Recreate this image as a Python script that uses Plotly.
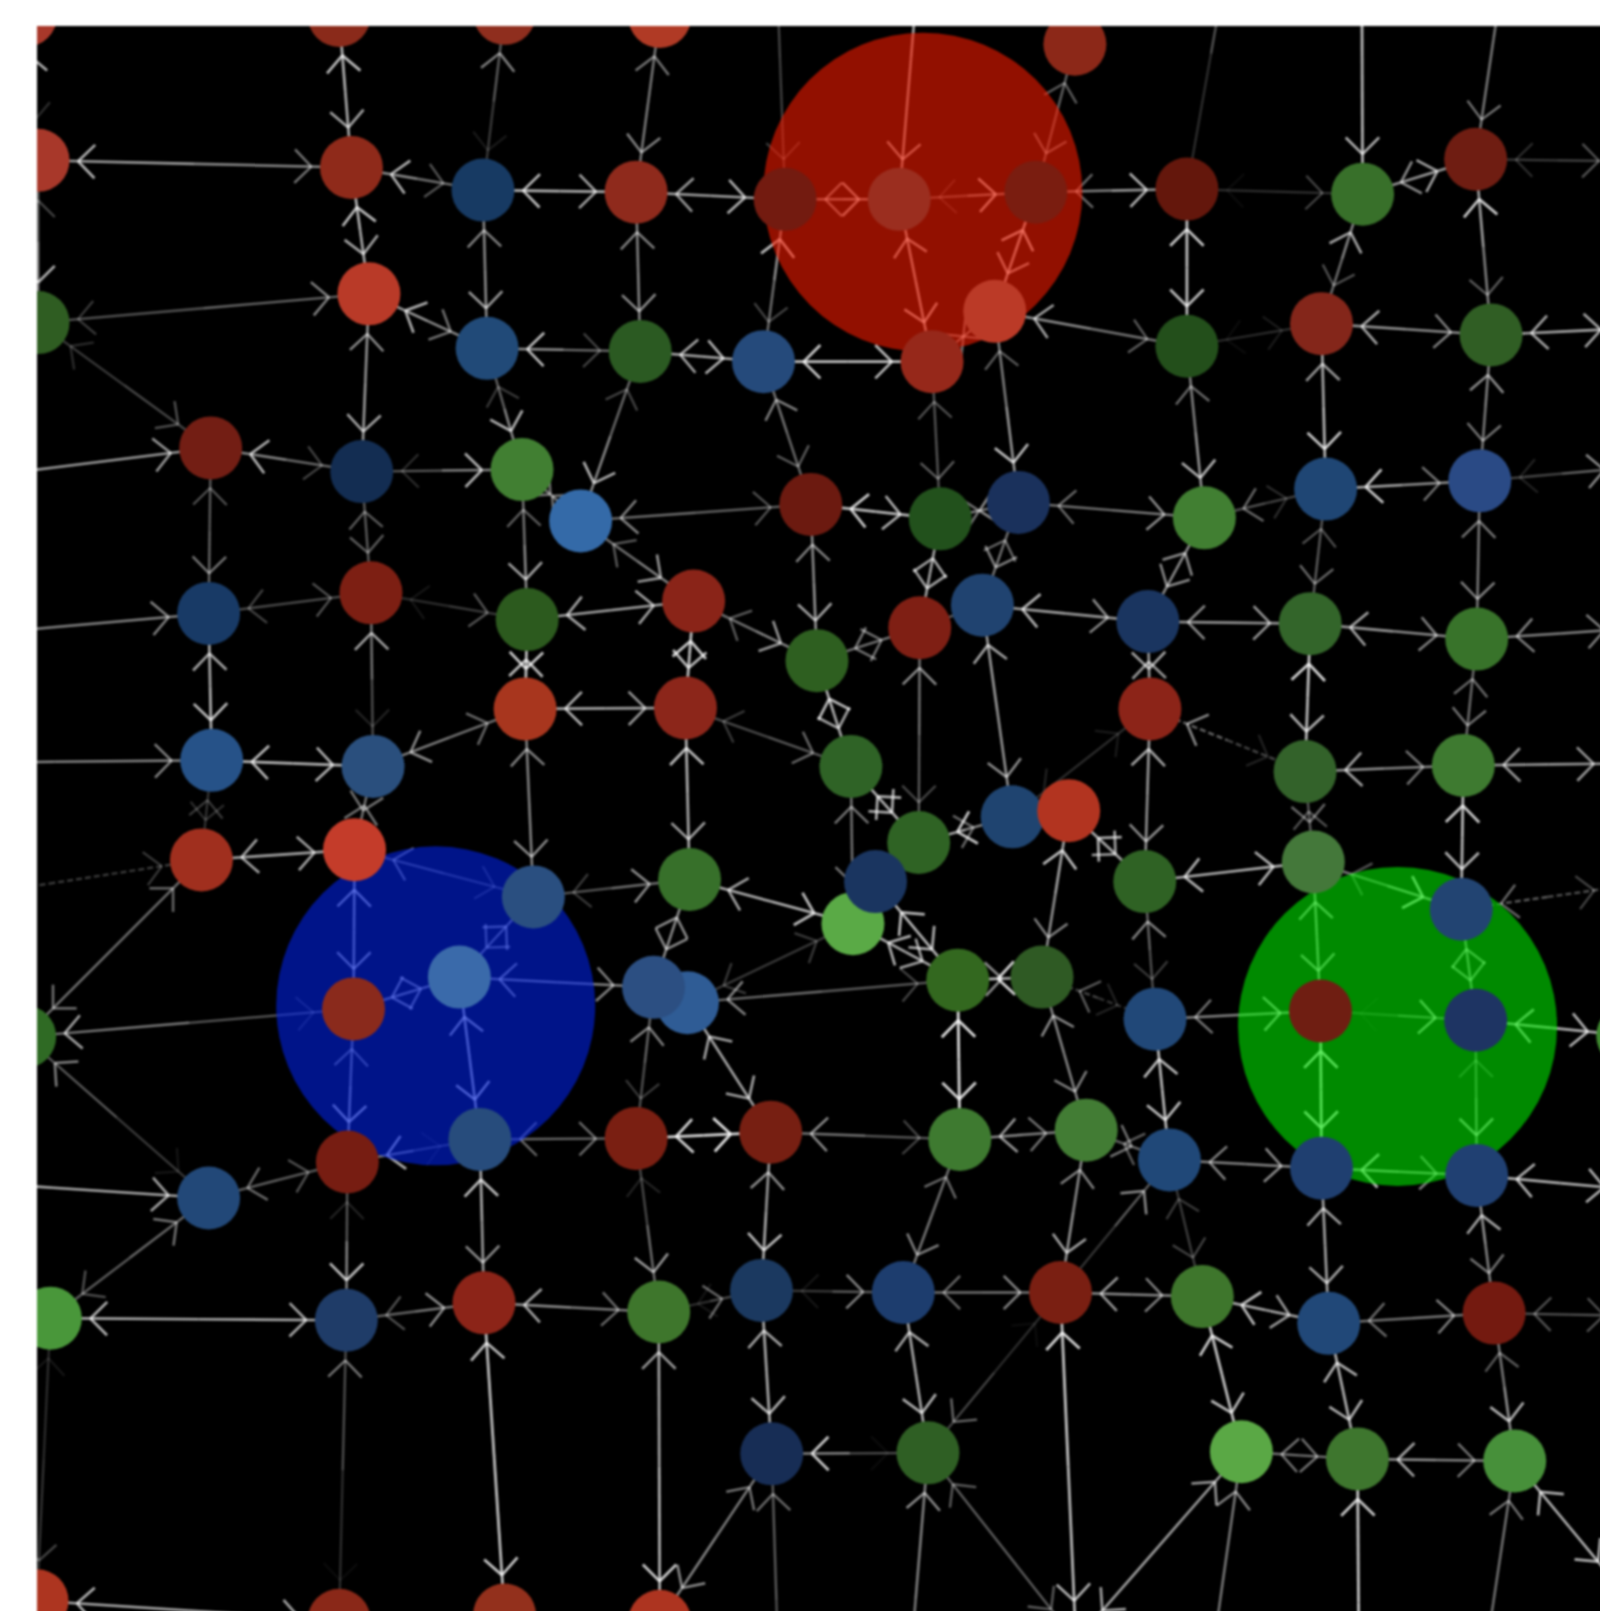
import plotly.graph_objects as go
import math

node_names = """A1 A2 A3 A4 A5
B0 B1 B2 B3 B4 B5 B6 B7 B8 B9
C0 C1 C2 C3 C4 C5 C6 C7 C8 C9
D0 D1 D2 D3 D4 D5 D6 D7 D8 D9
E0 E1 E2 E3 E4 E5 E6 E7 E8 E9
F0 F1 F2 F3 F4 F5 F6 F7
G0 G1 G2 G3 G4 G5 G6 G8 G7 G9 Ga Gb
H0 H1 H2 H4 H3 H5 H6 H7 H8 H9 Ha
I0 I1 I2 I3 I4 I5 I6 I7 I8 I9
J0 J1 J2 J3 J4 J5 J6 J7 J8 J9
K0 K1 K2 K3 K4
L0 L1 L2 L3""".split()
node_x = [25,330,491,642,1046,
          37,342,470,619,764,875,1008,1155,1326,1436,
          37,359,474,623,743,907,968,1155,1286,1451,
          205,352,508,565,789,915,991,1172,1290,1440,
          203,361,513,675,795,895,956,1117,1275,1437,
          206,363,511,667,828,1119,1270,1424,
          196,345,519,671,894,985,1040,830,852,1114,1278,1422,
          24,344,447,669,636,932,1014,1124,1285,1436,1584,
          338,467,619,750,934,1057,1138,1286,1437,203,
          49,337,471,641,741,879,1032,1170,1293,1454,
          751,903,1208,1321,1474,
          36,330,491,642]
node_y = [15,15,13,16,43,
          156,163,185,187,194,194,187,184,189,155,
          314,286,339,342,352,352,303,337,315,326,
          436,459,457,507,491,505,489,504,476,468,
          597,577,603,585,643,611,589,605,607,622,
          740,746,690,689,746,690,751,745,
          837,827,873,856,820,795,789,899,858,858,839,885,
          1009,982,951,976,961,954,951,992,984,993,1008,
          1131,1109,1108,1102,1109,1100,1129,1137,1144,1166,
          1283,1285,1268,1277,1256,1258,1258,1262,1288,1278,
          1415,1414,1413,1420,1422,
          1558,1577,1572,1578]
node_color = ["#a8382a","#8a2a1a","#8f2e1e","#b03a25","#8c2818",
    "#a8382a","#8f2a1a","#173a63","#8f2a1c","#731b10","#9b2e1f","#7a1d10","#64170c","#38702a","#6f1d12",
    "#2f5d22","#b93a28","#214a78","#2b5a22","#254a7b","#96281a","#bb3a27","#234f1b","#84261a","#305e24",
    "#731e14","#132d52","#417f32","#346aa8","#6c1a10","#22511c","#1a315c","#417f32","#1f4674","#2a4a85",
    "#183a66","#7d1f13","#2c5a1e","#8a2418","#2e5f20","#7f1f14","#204370","#1a3560","#33652a","#38732a",
    "#265288","#2a4f7d","#a8361e","#8c261a","#2f6326","#8c2418","#33622a","#3e7a30",
    "#a02f1e","#c43c2a","#2a4f80","#37702a","#2f6324","#1f4470","#b23420","#5aaa46","#1a3560","#2f6224","#44783a","#224472",
    "#2f6a24","#8a2a1c","#3a6aaa","#2f5c95","#2c4f82","#33681f","#2f5a24","#214878","#6f1e12","#1e3463","#3f8a30",
    "#771d12","#274c7c","#7a1f12","#771f12","#3e7a30","#427c34","#204878","#1f3f70","#204072","#224878",
    "#49973a","#1f3c68","#8c2418","#3e762c","#1b3960","#1d3d6e","#7a1f12","#3e762c","#214878","#741a10",
    "#172d55","#2f5f24","#5aa845","#3e762e","#47903a",
    "#ad3520","#8a2818","#93301c","#ad3420"]

# neighbours outside the visible window
anchor_names = ["T1","T2","T3","T4","T5","R1","R2","R3","R4","R5","R6","R7","R8","R9",
                "W1","W2","W3","W4","W5","S1","S2","S5","S6","S7","M"]
anchor_x = [754,898,1202,1325,1471,1595,1597,1600,1600,1590,1590,1600,1600,1580,
            -100,-100,-100,-100,-100,760,879,1167,1323,1432,1047]
anchor_y = [-80,-80,-80,-80,-80,157,319,454,611,743,861,1159,1281,1550,
            474,624,743,883,1146,1700,1700,1700,1700,1700,1597]

# pair, level near the first node, level near the second node
edge_list = """A2-B1 .8 .7|A3-B2 .55 .12|A4-B3 .5 .55|A5-B6 .4 .45|A1-B0 .75 .2|B0-C0 .3 .75|T1-B4 .35 .25|T2-B5 .75 .65|T3-B7 .55 .03|T4-B8 .85 .75|T5-B9 .55 .5
B0-B1 .75 .5|B1-B2 .75 .35|B2-B3 .8 .7|B3-B4 .65 .75|B4-B5 .55 .7|B5-B6 .2 .75|B6-B7 .45 .75|B7-B8 .05 .3|B8-B9 .6 .7|B9-R1 .2 .35
B1-C1 .8 .7|B2-C2 .55 .65|B3-C3 .55 .6|B4-C4 .8 .3|B5-C5 .7 .75|B6-C6 .8 .7|B7-C7 .85 .8|B8-C8 .7 .35|B9-C9 .85 .4
C0-C1 .25 .55|C1-C2 .75 .5|C2-C3 .8 .3|C3-C4 .7 .75|C4-C5 .85 .8|C5-C6 .5 .5|C6-C7 .7 .4|C7-C8 .05 .12|C8-C9 .7 .55|C9-R2 .7 .7
C0-D0 .2 .35|C1-D1 .6 .7|C2-D2 .25 .75|C3-D3 .3 .75|C4-D4 .55 .4|C5-D5 .35 .4|C6-D6 .4 .8|C7-D7 .45 .75|C8-D8 .65 .85|C9-D9 .6 .5
W1-D0 .65 .65|D0-D1 .75 .3|D1-D2 .2 .75|D2-D3 .5 .5|D3-D4 .55 .35|D4-D5 .85 .75|D5-D6 .6 .5|D6-D7 .45 .6|D7-D8 .45 .2|D8-D9 .85 .5|D9-R3 .15 .6
D0-E0 .35 .5|D1-E1 .4 .4|D2-E2 .4 .7|D3-E3 .4 .65|D4-E4 .55 .7|D5-E5 .7 .7|D6-E6 .45 .55|D7-E7 .6 .6|D8-E8 .35 .45|D9-E9 .5 .55
W2-E0 .55 .55|E0-E1 .3 .35|E1-E2 .1 .35|E2-E3 .7 .7|E3-E4 .4 .65|E4-E5 .5 .5|E5-E6 .4 .4|E6-E7 .75 .6|E7-E8 .6 .65|E8-E9 .7 .55|E9-R4 .55 .55
E0-F0 .7 .8|E1-F1 .7 .15|E2-F2 .8 .85|E3-F3 .85 .8|E4-F4 .8 .7|E5-G4 .6 .3|E6-G5 .7 .6|E7-F5 .65 .7|E8-F6 .9 .75|E9-F7 .45 .5
W3-F0 .6 .55|F0-F1 .8 .75|F1-F2 .6 .45|F2-F3 .75 .65|F3-F4 .25 .45|F5-F6 .6 .15|F6-F7 .7 .5|F7-R5 .65 .65
F0-G0 .25 .2|F1-G1 .5 .5|F2-G2 .55 .6|F3-G3 .8 .7|F4-G8 .5 .5|F4-G4 .75 .75|F5-G9 .7 .6|F6-Ga .35 .45|F7-Gb .85 .75|F5-G5 .12 .15
W4-G0 .3 .25|G0-G1 .7 .7|G0-H0 .45 .5|G1-G2 .5 .25|G1-H1 .7 .65|G2-G3 .25 .6|G2-H2 .55 .5|G3-G8 .7 .8|G3-H3 .6 .6|G4-G5 .85 .45|G4-G7 .3 .3|G7-H5 .8 .75|G8-H5 .75 .7|G5-G6 .5 .5|G6-G9 .75 .7|G6-H6 .8 .55|G9-Ga .75 .75|G9-H7 .55 .25|Ga-Gb .35 .85|Ga-H8 .65 .65|Gb-H9 .6 .6|Gb-R6 .45 .3
H0-H1 .7 .2|H1-H2 .6 .55|H2-H3 .6 .55|H4-H5 .55 .3|H4-G8 .25 .25|H5-H6 .9 .6|H6-H7 .4 .15|H7-H8 .5 .7|H8-H9 .05 .7|H9-Ha .75 .75
H0-I9 .55 .1|H1-I0 .45 .75|H2-I1 .7 .75|H3-I2 .55 .25|H4-I3 .7 .7|H5-I4 .95 .9|H6-I5 .6 .55|H7-I6 .8 .8|H8-I7 .9 .9|H9-I8 .3 .7
I9-I0 .45 .35|I0-I1 .75 .1|I1-I2 .45 .45|I2-I3 .9 .95|I3-I4 .6 .3|I4-I5 .65 .5|I5-I6 .4 .5|I6-I7 .55 .6|I7-I8 .8 .55|I8-R7 .75 .75|W5-I9 .75 .7
I0-J1 .15 .8|I1-J2 .8 .6|I2-J3 .15 .65|I3-J4 .6 .8|I4-J5 .45 .55|I5-J6 .55 .7|I6-J7 .25 .3|I6-J6 .6 .03|I7-J8 .7 .7|I8-J9 .7 .5|I9-J0 .5 .35
J0-J1 .75 .7|J1-J2 .35 .6|J2-J3 .7 .45|J3-J4 .1 .45|J4-J5 .1 .55|J5-J6 .45 .55|J6-J7 .65 .55|J7-J8 .8 .65|J8-J9 .45 .55|J9-R8 .35 .35
J1-L1 .5 .05|J2-L2 .8 .85|J3-L3 .65 .85|J4-K0 .7 .75|J5-K1 .7 .75|J6-K1 .05 .45|J6-M .9 .75|J7-K2 .85 .8|J8-K3 .75 .75|J9-K4 .4 .75|J0-L0 .1 .3
K0-K1 .85 .05|K2-K3 .5 .5|K3-K4 .7 .5|K0-L3 .5 .6|K0-S1 .45 .3|K1-S2 .6 .5|K1-M .4 .4|K2-M .65 .7|K2-S5 .55 .5|K3-S6 .85 .85|K4-S7 .5 .5|K4-R9 .75 .75
L0-L1 .75 .7"""
dashed_edges = ["W4-G0", "Gb-R6", "H6-H7", "F5-F6"]

hub_x = [898, 424, 1360]
hub_y = [187, 979, 999]
hub_color = ["rgba(243,27,0,0.6)", "rgba(0,33,228,0.6)", "rgba(0,230,0,0.6)"]

pos = {n: (x, y) for n, x, y in zip(node_names, node_x, node_y)}
pos.update({n: (x, y) for n, x, y in zip(anchor_names, anchor_x, anchor_y)})

groups = {}
def seg(level, dash, xa, ya, xb, yb):
    xs, ys = groups.setdefault((round(level, 2), dash), ([], []))
    xs += [xa, xb, None]
    ys += [ya, yb, None]

for item in edge_list.replace("\n", "|").split("|"):
    pair, la, lb = item.split()
    la, lb = float(la), float(lb)
    a, b = pair.split("-")
    (x1, y1), (x2, y2) = pos[a], pos[b]
    d = math.hypot(x2 - x1, y2 - y1)
    ux, uy = (x2 - x1) / d, (y2 - y1) / d
    mx, my = (x1 + x2) / 2, (y1 + y2) / 2
    dash = "6px,3px" if pair in dashed_edges else "solid"
    # the line itself changes far less along its length than its two heads do
    seg(0.9 * max(0.65 * la + 0.35 * lb, 0.2), dash, x1, y1, mx, my)
    seg(0.9 * max(0.65 * lb + 0.35 * la, 0.2), dash, mx, my, x2, y2)
    for px, py, dx, dy, lv in ((x1, y1, ux, uy, la), (x2, y2, -ux, -uy, lb)):
        if lv < 0.04:
            continue
        tx, ty = px + dx * 39, py + dy * 39
        for ang in (math.radians(45), math.radians(-45)):
            bx = dx * math.cos(ang) - dy * math.sin(ang)
            by = dx * math.sin(ang) + dy * math.cos(ang)
            seg(0.9 * lv, "solid", tx + bx * 23, ty + by * 23, tx, ty)

fig = go.Figure()
for (lev, dash), (xs, ys) in sorted(groups.items()):
    fig.add_trace(go.Scatter(x=xs, y=ys, mode="lines", hoverinfo="skip",
                             line=dict(color=f"rgba(255,255,255,{lev})", width=2.0 + 1.0 * lev, dash=dash)))
fig.add_trace(go.Scatter(x=hub_x, y=hub_y, mode="markers", hoverinfo="skip",
                         marker=dict(size=319, color=hub_color, line=dict(width=0))))
fig.add_trace(go.Scatter(x=node_x, y=node_y, mode="markers", hoverinfo="skip",
                         marker=dict(size=63, color=node_color, line=dict(width=0))))
# the figure runs 10px past the window so the soft edge stays out of view
fig.update_layout(width=1610, height=1621, autosize=False, showlegend=False,
                  margin=dict(l=37, r=0, t=26, b=0, pad=0),
                  paper_bgcolor="white", plot_bgcolor="black",
                  xaxis=dict(range=[36, 1566.73], visible=False, fixedrange=True),
                  yaxis=dict(range=[1577.73, 25.3], visible=False, fixedrange=True))
fig.write_html("out.html",
               post_script="document.body.style.margin='0';"
                           "document.documentElement.style.overflow='hidden';"
                           "document.body.style.overflow='hidden';"
                           "document.querySelectorAll('.main-svg').forEach(function(e){e.style.filter='blur(0.8px)';});",
               config=dict(displayModeBar=False))
